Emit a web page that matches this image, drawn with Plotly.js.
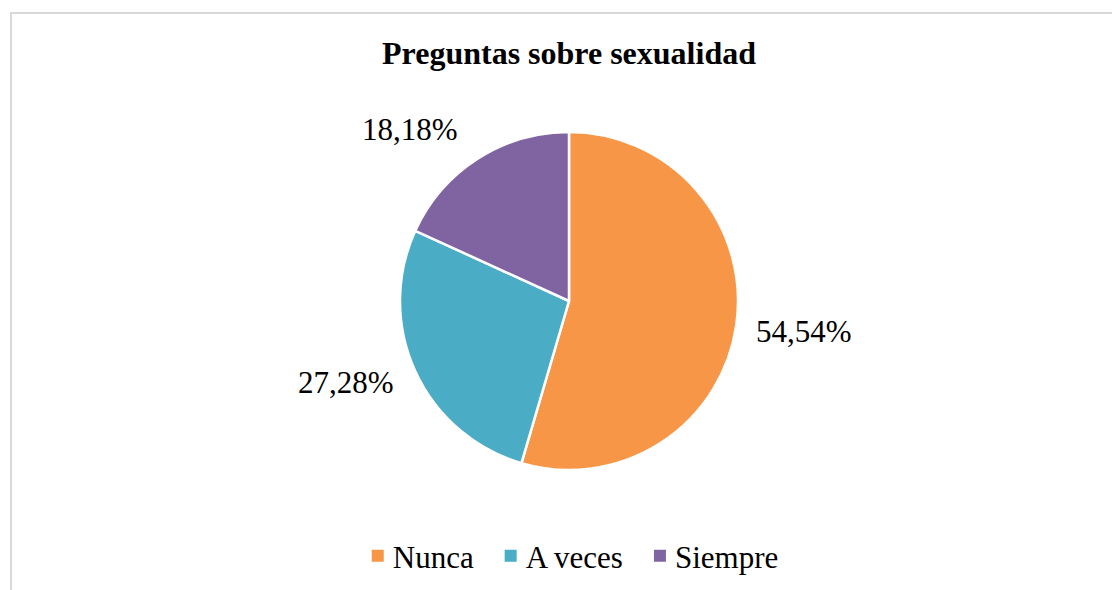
<!DOCTYPE html>
<html>
<head>
<meta charset="utf-8">
<script src="https://cdn.plot.ly/plotly-3.0.1.min.js"></script>
<style>
html,body{margin:0;padding:0;background:#fff;}
#frame{position:absolute;left:10px;top:12px;width:1102px;height:578px;border-top:2px solid #d9d9d9;border-left:2px solid #d9d9d9;}
#chart{position:absolute;left:0;top:0;width:1112px;height:590px;}
</style>
</head>
<body>
<div id="frame"></div>
<div id="chart"></div>
<script>
const categories = ["Nunca", "A veces", "Siempre"];
const values = [54.54, 27.28, 18.18];
const labelsText = ["54,54%", "27,28%", "18,18%"];
const colors = ["#F79646", "#4BACC6", "#8064A2"];

const W = 1112, H = 590;
const cx = 569, cy = 301, R = 169;
const font = "Liberation Serif, Times New Roman, serif";

// annotation positions derived from slice mid-angles
const total = values.reduce((a, b) => a + b, 0);
let acc = 0;
const annotations = values.map((v, i) => {
  const mid = (acc + v / 2) / total * 2 * Math.PI; // clockwise from top
  acc += v;
  const s = Math.sin(mid), c = Math.cos(mid);
  const rr = R + 18;
  const px = cx + rr * s, py = cy - rr * c;
  let yanchor = "middle", xshift = 0, yshift = 0;
  if (c > 0.7) { yanchor = "bottom"; xshift = -8; yshift = -5; }
  else if (c < -0.7) yanchor = "top";
  else yshift = c > 0 ? 4 : -4;
  if (s < 0 && Math.abs(c) <= 0.7) xshift = -3;
  return {
    x: px / W, y: 1 - py / H, xref: "paper", yref: "paper",
    text: labelsText[i], showarrow: false,
    xanchor: s >= 0 ? "left" : "right", yanchor: yanchor, xshift: xshift, yshift: yshift,
    font: {family: font, size: 31, color: "#000"}
  };
});

const trace = {
  type: "pie",
  labels: categories,
  values: values,
  sort: false,
  direction: "clockwise",
  rotation: 0,
  textinfo: "none",
  hoverinfo: "label+percent",
  marker: {colors: colors, line: {color: "#fff", width: 2.5}},
  domain: {x: [(cx - R) / W, (cx + R) / W], y: [1 - (cy + R) / H, 1 - (cy - R) / H]}
};

const layout = {
  width: W, height: H,
  margin: {l: 0, r: 0, t: 0, b: 0},
  paper_bgcolor: "rgba(0,0,0,0)",
  plot_bgcolor: "rgba(0,0,0,0)",
  title: {text: "<b>Preguntas sobre sexualidad</b>", x: cx / W, xanchor: "center", y: 1 - 53 / H, yanchor: "middle",
          font: {family: font, size: 32, color: "#000"}},
  showlegend: true,
  legend: {orientation: "h", x: 576 / W, xanchor: "center", y: 1 - 556 / H, yanchor: "middle",
           font: {family: font, size: 31, color: "#000"}, traceorder: "normal"},
  annotations: annotations
};

Plotly.newPlot("chart", [trace], layout, {displayModeBar: false, staticPlot: true}).then(gd => {
  // restyle legend entries: larger solid squares, tighter text gap, compact spacing
  const groups = Array.from(gd.querySelectorAll("g.legend g.traces"));
  const gap = 31, markerSize = 12, textGap = 9, centerX = 575;
  const items = groups.map(g => {
    const p = g.querySelector("path.legendpie");
    p.style.strokeWidth = "0";
    const t = g.querySelector("text.legendtext");
    return {g, p, t, tw: t.getComputedTextLength()};
  });
  const totalW = items.reduce((a, it) => a + markerSize + textGap + it.tw, 0) + gap * (items.length - 1);
  let left = centerX - totalW / 2;
  items.forEach(it => {
    const tr = it.g.getAttribute("transform") || "translate(0,0)";
    const m = tr.match(/translate\(([-\d.]+)[ ,]*([-\d.]+)?\)/);
    const tx = parseFloat(m[1]), ty = parseFloat(m[2] || 0);
    const pr = it.p.getBoundingClientRect();
    const curCenter = pr.left + pr.width / 2;
    const wantCenter = left + markerSize / 2;
    const ntx = tx + (wantCenter - curCenter);
    it.g.setAttribute("transform", "translate(" + ntx + "," + ty + ")");
    const lp = it.p.parentNode;
    const ptr = lp.getAttribute("transform") || "";
    lp.setAttribute("transform", ptr + " scale(" + (markerSize / 12) + ")");
    it.t.setAttribute("x", 20 + markerSize / 2 + textGap);
    left += markerSize + textGap + it.tw + gap;
  });
});
</script>
</body>
</html>
